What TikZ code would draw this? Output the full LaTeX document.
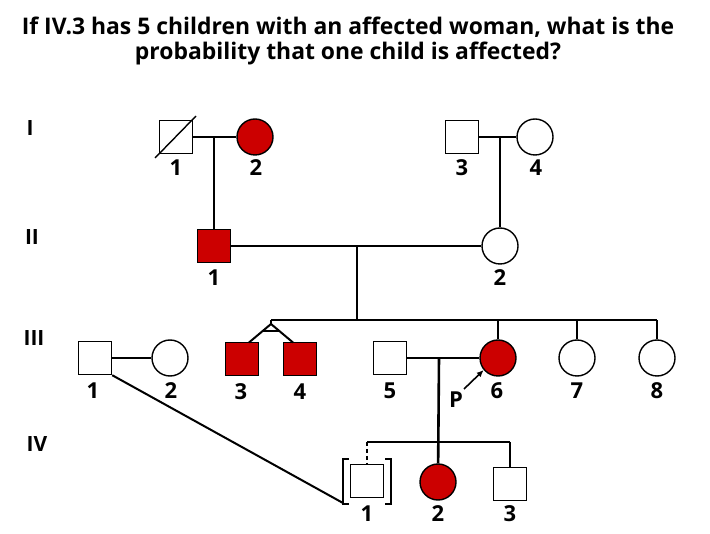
\documentclass[tikz,border=0pt]{standalone}
\usepackage{fontspec}
\setmainfont{Open Sans}
\usetikzlibrary{arrows.meta}
\definecolor{affred}{RGB}{204,0,0}
\begin{document}
\begin{tikzpicture}[x=1pt,y=-1pt,
    male/.style={draw,line width=1.4pt,minimum size=33pt,inner sep=0pt},
    female/.style={draw,circle,line width=1.4pt,minimum size=36pt,inner sep=0pt},
    aff/.style={fill=affred},
    num/.style={font=\fontsize{22}{22}\selectfont\bfseries},
    gen/.style={font=\fontsize{21}{21}\selectfont\bfseries},
    link/.style={line width=2.6pt}]
    \useasboundingbox (0,0) rectangle (710,534);
    % question
    \node[font=\fontsize{22.9}{25}\selectfont\bfseries,align=center] (q) at (348,41)
        {If IV.3 has 5 children with an affected woman, what is the\\probability that one child is affected?};
    % generations
    \node[gen] (gI) at (30,128) {I};
    \node[gen] (gII) at (32,237) {II};
    \node[gen] (gIII) at (34,338) {III};
    \node[gen] (gIV) at (37,444) {IV};
    % generation I
    \node[male] (I1) at (176,137) {};
    \node[female,aff] (I2) at (255,137) {};
    \node[male] (I3) at (462,137) {};
    \node[female] (I4) at (535,137) {};
    \draw[line width=1.4pt] (155,158) -- (196,116);
    \node[num] (n11) at (176,168) {1};
    \node[num] (n12) at (256,168) {2};
    \node[num] (n13) at (462,168) {3};
    \node[num] (n14) at (536,168) {4};
    \draw[link] (I1) -- (I2);
    \draw[link] (I3) -- (I4);
    % generation II
    \node[male,aff] (II1) at (214,246) {};
    \node[female] (II2) at (500,246) {};
    \node[num] (n21) at (214,278) {1};
    \node[num] (n22) at (500,278) {2};
    \coordinate (m1) at (214,137);
    \coordinate (m2) at (500,137);
    \draw[link] (m1) -- (II1);
    \draw[link] (m2) -- (II2);
    \draw[link] (II1) -- (II2);
    \coordinate (m3) at (357,246);
    \coordinate (sib) at (357,320);
    \draw[link] (m3) -- (sib);
    % generation III
    \node[male] (III1) at (95,358) {};
    \node[female] (III2) at (170,358) {};
    \node[male,aff] (III3) at (242,359) {};
    \node[male,aff] (III4) at (300,359) {};
    \node[male] (III5) at (390,358) {};
    \node[female,aff] (III6) at (498,358) {};
    \node[female] (III7) at (577,358) {};
    \node[female] (III8) at (657,358) {};
    \node[num] (n31) at (93,391) {1};
    \node[num] (n32) at (171,391) {2};
    \node[num] (n33) at (241,392) {3};
    \node[num] (n34) at (300,392) {4};
    \node[num] (n35) at (390,391) {5};
    \node[num] (n36) at (497,391) {6};
    \node[num] (n37) at (577,391) {7};
    \node[num] (n38) at (657,391) {8};
    \draw[link] (III1) -- (III2);
    \draw[link] (III5) -- (III6);
    \coordinate (twin) at (271,320);
    \coordinate (sibR) at (657,320);
    \draw[link] (twin) -- (sibR);
    \draw[link] (III6.north) -- (III6.north |- sib);
    \draw[link] (III7.north) -- (III7.north |- sib);
    \draw[link] (III8.north) -- (III8.north |- sib);
    \coordinate (apex) at (271,324);
    \draw[link] (twin) -- (apex);
    \draw[link,line width=2pt] (249,342.5) -- (apex) -- (293,342.5);
    \draw[link,line width=2pt] (262.5,331) -- (279.5,331);
    % proband
    \node[num] (P) at (456,400) {P};
    \draw[-{Latex[length=7pt,width=6pt]},line width=1.6pt] (464,389) -- (III6.220);
    % generation IV
    \node[male] (IV1) at (367,481) {};
    \node[female,aff] (IV2) at (438,482) {};
    \node[male] (IV3) at (510,484) {};
    \node[num] (n41) at (367,514) {1};
    \node[num] (n42) at (438,514) {2};
    \node[num] (n43) at (510,514) {3};
    \coordinate (m4) at (439,358);
    \coordinate (sibL) at (367,442);
    \coordinate (sibE) at (510,442);
    \draw[link] (m4) -- (IV2);
    \draw[link] (sibL) -- (sibE);
    \draw[link] (sibE) -- (IV3);
    \draw[link,dashed,dash pattern=on 4pt off 3pt] (sibL) -- (IV1);
    % adoption brackets
    \draw[line width=1.6pt] (349,459) -- (343,459) -- (343,504) -- (349,504);
    \draw[line width=1.6pt] (385,459) -- (391,459) -- (391,504) -- (385,504);
    \coordinate (adopt) at (343,503);
    \draw[link,line width=2pt] (III1.south east) -- (adopt);
\end{tikzpicture}
\end{document}
